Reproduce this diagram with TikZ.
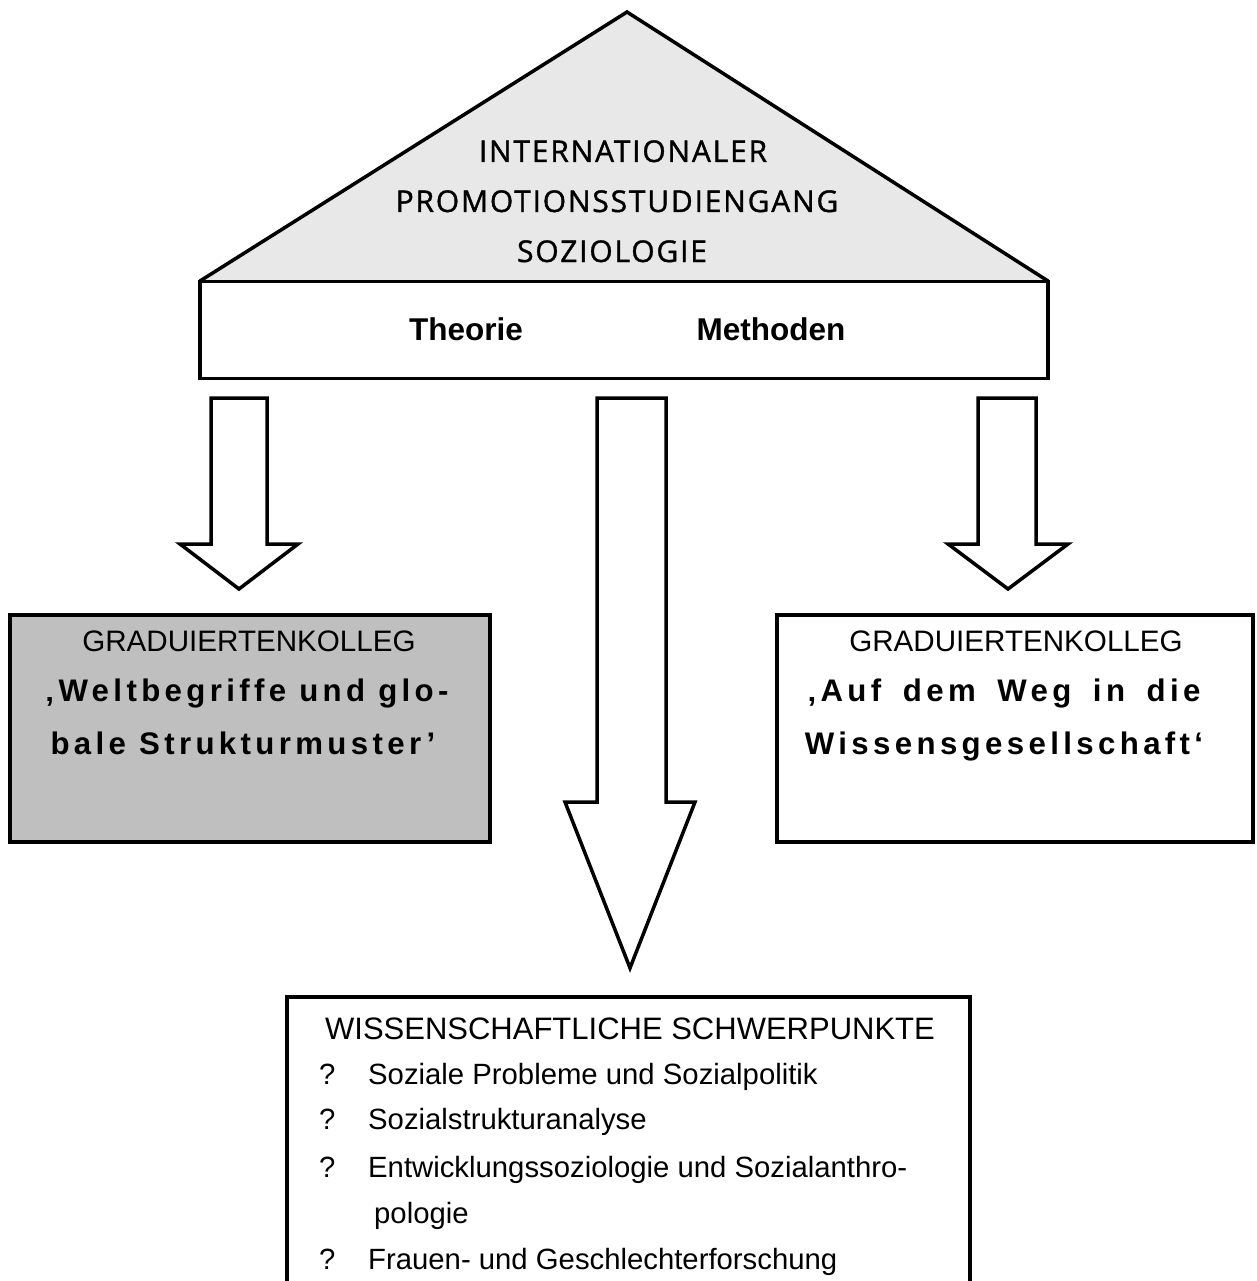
\documentclass[tikz,border=0pt]{standalone}
\usepackage{fontspec}
\setmainfont{Liberation Sans}
\newfontfamily\topfont[FakeBold=1.2,LetterSpace=6]{Open Sans}
\newfontfamily\spacedfont[LetterSpace=14]{Liberation Sans}
\begin{document}
\begin{tikzpicture}[x=1pt,y=-1pt,
  outline/.style={draw=black,line width=3.5pt,line join=miter},
  toptext/.style={anchor=base,inner sep=0pt,font=\topfont\fontsize{30}{36}\selectfont},
  boldtext/.style={anchor=base,inner sep=0pt,font=\bfseries\fontsize{31.5}{36}\selectfont},
  plaintext/.style={anchor=base,inner sep=0pt,font=\fontsize{29.6}{34}\selectfont},
  headtext/.style={anchor=base,inner sep=0pt,font=\fontsize{31}{36}\selectfont},
  spacedtext/.style={anchor=base,inner sep=0pt,font=\spacedfont\bfseries\fontsize{31.2}{36}\selectfont},
  itemtext/.style={anchor=base west,inner sep=0pt,font=\fontsize{29.3}{34}\selectfont}]
\useasboundingbox (0,0) rectangle (1256,1281);
% roof
\coordinate (apex) at (627,12);
\coordinate (roofL) at (200,281);
\coordinate (roofR) at (1048,281);
\fill[gray!18] (apex) -- (roofL) -- (roofR) -- cycle;
\draw[outline] (roofL) -- (apex) -- (roofR);
\node[outline,fill=white,minimum width=848pt,minimum height=97pt,inner sep=0pt] (base) at (624,330) {};
\node[toptext] (t1) at (623,162) {INTERNATIONALER};
\node[toptext] (t2) at (617,212) {PROMOTIONSSTUDIENGANG};
\node[toptext] (t3) at (612,262) {SOZIOLOGIE};
\node[boldtext] (theo) at (466,340) {Theorie};
\node[boldtext] (meth) at (771,340) {Methoden};
% arrows
\draw[outline,fill=white] (211,398) -- (267,398) -- (267,544) -- (298,544) -- (239,589) -- (180,544) -- (211,544) -- cycle;
\draw[outline,fill=white] (597,398) -- (666,398) -- (666,802) -- (695,802) -- (630,968) -- (565,802) -- (597,802) -- cycle;
\draw[outline,fill=white] (978,398) -- (1036,398) -- (1036,544) -- (1068,544) -- (1008,589) -- (948,544) -- (978,544) -- cycle;
% left box
\node[outline,fill=gray!50,minimum width=480pt,minimum height=227pt,inner sep=0pt] (gkL) at (250,728.5) {};
\node[plaintext] (gkLt) at (249,651) {GRADUIERTENKOLLEG};
\node[spacedtext] (gkL1) at (247,701) {‚Weltbegriffe und glo-};
\node[spacedtext] (gkL2) at (243,754) {bale Strukturmuster’};
% right box
\node[outline,fill=white,minimum width=476pt,minimum height=227pt,inner sep=0pt] (gkR) at (1015,728.5) {};
\node[plaintext] (gkRt) at (1016,651) {GRADUIERTENKOLLEG};
\node[spacedtext] (gkR1) at (1004,701) {\makebox[393pt][s]{‚Auf dem Weg in die}};
\node[spacedtext] (gkR2) at (1004,754) {Wissensgesellschaft‘};
% bottom box
\coordinate (bL) at (287,1284);
\coordinate (bTL) at (287,997);
\coordinate (bTR) at (970,997);
\coordinate (bR) at (970,1284);
\draw[outline] (bL) -- (bTL) -- (bTR) -- (bR);
\node[headtext] (ws) at (630,1039) {WISSENSCHAFTLICHE SCHWERPUNKTE};
\foreach \y/\t [count=\i] in {1084/Soziale Probleme und Sozialpolitik,1129/Sozialstrukturanalyse,1177/Entwicklungssoziologie und Sozialanthro-,1269/Frauen- und Geschlechterforschung}{
  \node[itemtext] (q\i) at (319,\y) {?};
  \node[itemtext] (it\i) at (368,\y) {\t};
}
\node[itemtext] (it5) at (374,1223) {pologie};
\end{tikzpicture}
\end{document}
